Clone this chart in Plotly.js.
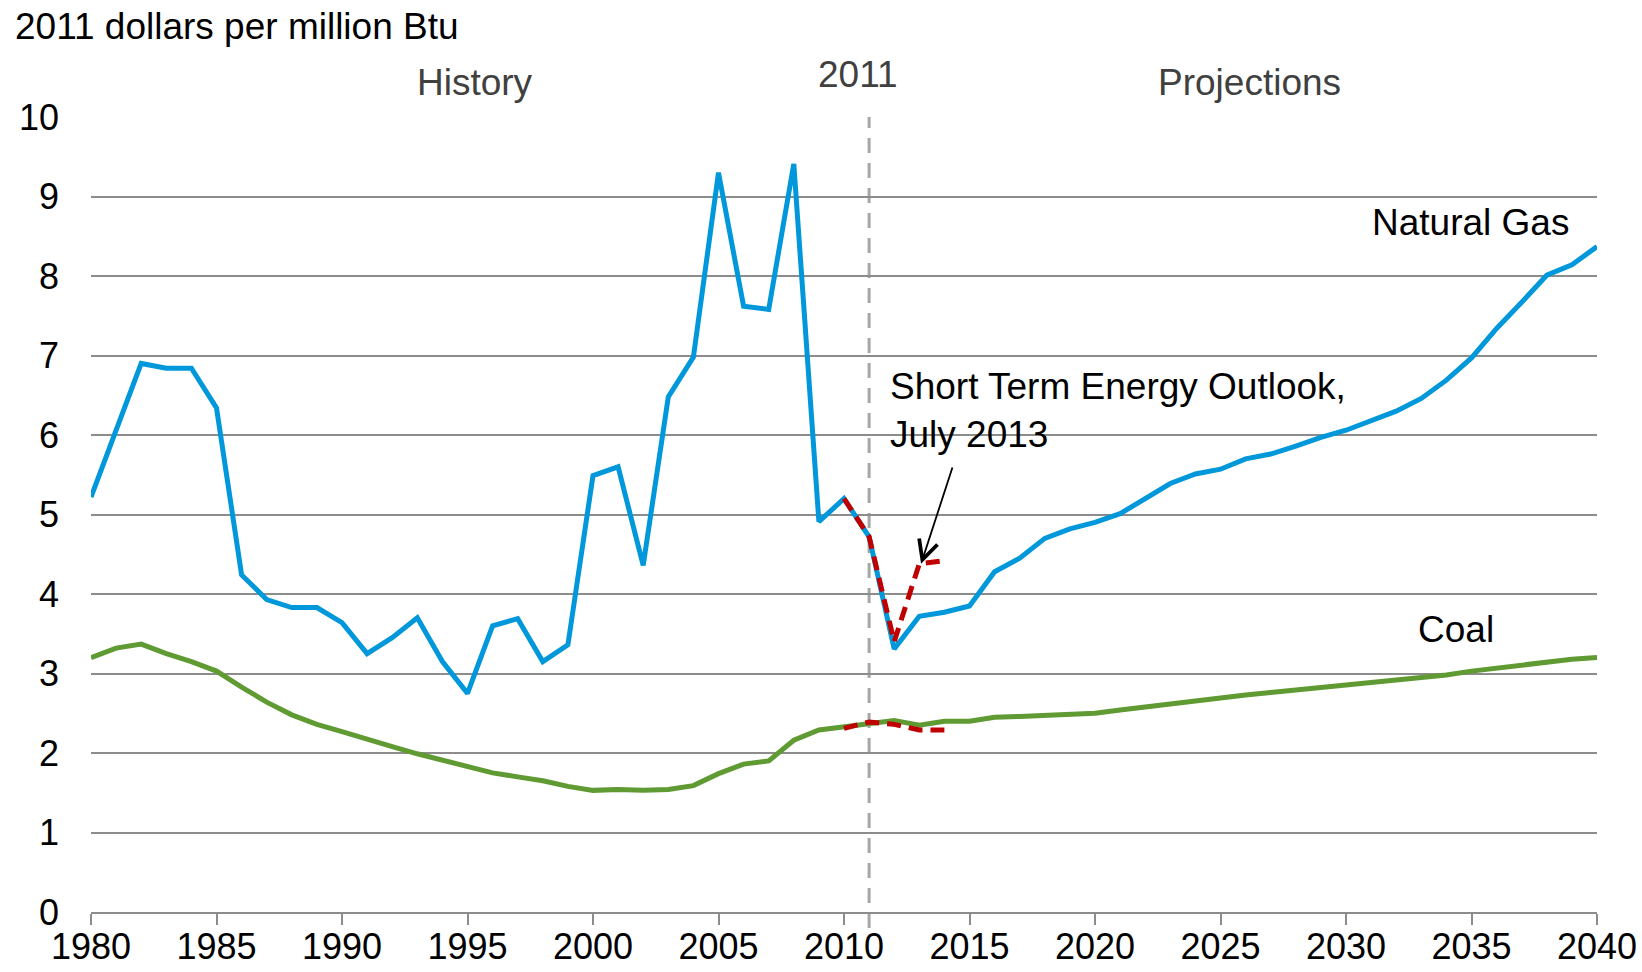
<!DOCTYPE html>
<html>
<head>
<meta charset="utf-8">
<script src="https://cdn.plot.ly/plotly-3.0.1.min.js"></script>
<style>html,body{margin:0;padding:0;background:#fff;}#chart{width:1642px;height:972px;}</style>
</head>
<body>
<div id="chart"></div>
<script>
const years = [];
for (let y = 1980; y <= 2040; y++) years.push(y);

const naturalGas = [
  5.22, 6.05, 6.90, 6.84, 6.84, 6.34, 4.24, 3.93, 3.83, 3.83,
  3.64, 3.25, 3.45, 3.70, 3.15, 2.75, 3.60, 3.69, 3.15, 3.36,
  5.49, 5.60, 4.36, 6.48, 6.98, 9.30, 7.62, 7.58, 9.41, 4.91,
  5.20, 4.72, 3.31, 3.72, 3.77, 3.85, 4.28, 4.45, 4.70, 4.82,
  4.90, 5.01, 5.20, 5.39, 5.51, 5.57, 5.70, 5.76, 5.86, 5.97,
  6.06, 6.18, 6.30, 6.46, 6.69, 6.97, 7.34, 7.67, 8.01, 8.14,
  8.37
];

const coal = [
  3.20, 3.32, 3.37, 3.25, 3.15, 3.03, 2.83, 2.64, 2.48, 2.36,
  2.27, 2.17, 2.08, 1.99, 1.91, 1.82, 1.75, 1.70, 1.65, 1.58,
  1.53, 1.54, 1.53, 1.54, 1.59, 1.74, 1.86, 1.90, 2.16, 2.29,
  2.33, 2.38, 2.41, 2.35, 2.40, 2.40, 2.45, 2.46, 2.47, 2.48,
  2.50, 2.54, 2.58, 2.62, 2.65, 2.69, 2.73, 2.76, 2.79, 2.83,
  2.86, 2.89, 2.91, 2.94, 2.98, 3.03, 3.07, 3.11, 3.15, 3.18,
  3.20
];

const steoYears = [2010, 2011, 2012, 2013, 2014];
const steoGas = [5.20, 4.72, 3.40, 4.38, 4.42];
const steoCoal = [2.31, 2.39, 2.36, 2.29, 2.29];

const xTicks = [1980, 1985, 1990, 1995, 2000, 2005, 2010, 2015, 2020, 2025, 2030, 2035, 2040];
const yTicks = [0, 1, 2, 3, 4, 5, 6, 7, 8, 9, 10];
const dividerYear = 2011;

const FONT = 'Liberation Sans, Arial, sans-serif';
const TXT = 37;
const TICK = 36;

const traces = [
  {x: years, y: naturalGas, type: 'scatter', mode: 'lines', name: 'Natural Gas',
   line: {color: '#0098DA', width: 5}},
  {x: years, y: coal, type: 'scatter', mode: 'lines', name: 'Coal',
   line: {color: '#5F9A32', width: 5}},
  {x: steoYears, y: steoGas, type: 'scatter', mode: 'lines', name: 'STEO gas',
   line: {color: '#C00000', width: 5, dash: '14px,8px'}},
  {x: steoYears, y: steoCoal, type: 'scatter', mode: 'lines', name: 'STEO coal',
   line: {color: '#C00000', width: 5, dash: '14px,8px'}}
];

const layout = {
  width: 1642, height: 972,
  margin: {l: 91, r: 45, t: 117, b: 60},
  paper_bgcolor: '#fff', plot_bgcolor: '#fff',
  showlegend: false,
  font: {family: FONT, size: TXT, color: '#000'},
  xaxis: {
    range: [1980, 2040], tickvals: xTicks, ticktext: xTicks.map(String),
    showgrid: false, zeroline: false,
    showline: true, linecolor: '#8c8c8c', linewidth: 2,
    ticks: 'outside', ticklen: 11, tickwidth: 2, tickcolor: '#8c8c8c',
    ticklabelstandoff: -9,
    tickfont: {family: FONT, size: TICK, color: '#000'}, fixedrange: true
  },
  yaxis: {
    range: [0, 10], tickvals: yTicks, ticktext: yTicks.map(String),
    showgrid: true, gridcolor: '#8c8c8c', gridwidth: 2,
    zeroline: false, showline: false, ticks: '',
    ticklabelstandoff: 31,
    tickfont: {family: FONT, size: TICK, color: '#000'}, fixedrange: true
  },
  shapes: [
    {type: 'line', xref: 'x', yref: 'paper', x0: dividerYear, x1: dividerYear, y0: -0.02, y1: 1,
     line: {color: '#a6a6a6', width: 3, dash: '15px,10px'}, layer: 'below'}
  ],
  annotations: [
    {text: '2011 dollars per million Btu', xref: 'paper', yref: 'paper', x: -0.052, y: 1.114,
     xanchor: 'left', yanchor: 'middle', showarrow: false, font: {size: TXT, color: '#000'}},
    {text: 'History', xref: 'paper', yref: 'paper', x: 0.255, y: 1.044,
     xanchor: 'center', yanchor: 'middle', showarrow: false, font: {size: TXT, color: '#404040'}},
    {text: '2011', xref: 'paper', yref: 'paper', x: 0.509, y: 1.053,
     xanchor: 'center', yanchor: 'middle', showarrow: false, font: {size: TXT, color: '#404040'}},
    {text: 'Projections', xref: 'paper', yref: 'paper', x: 0.769, y: 1.044,
     xanchor: 'center', yanchor: 'middle', showarrow: false, font: {size: TXT, color: '#404040'}},
    {text: 'Natural Gas', xref: 'x', yref: 'y', x: 2038.96, y: 8.67,
     xanchor: 'right', yanchor: 'middle', showarrow: false, font: {size: TXT, color: '#000'}},
    {text: 'Coal', xref: 'x', yref: 'y', x: 2034.38, y: 3.55,
     xanchor: 'center', yanchor: 'middle', showarrow: false, font: {size: TXT, color: '#000'}},
    {text: 'Short Term Energy Outlook,<br>July 2013', xref: 'x', yref: 'y', x: 2011.75, y: 6.31,
     xanchor: 'left', yanchor: 'middle', align: 'left', showarrow: false, font: {size: TXT, color: '#000'}},
    {text: '', xref: 'x', yref: 'y', axref: 'x', ayref: 'y', x: 2013.07, y: 4.38, ax: 2014.34, ay: 5.61,
     showarrow: true, arrowhead: 5, arrowsize: 2.1, arrowwidth: 1.8, arrowcolor: '#000'}
  ]
};

Plotly.newPlot('chart', traces, layout, {staticPlot: true, displayModeBar: false});
</script>
</body>
</html>
